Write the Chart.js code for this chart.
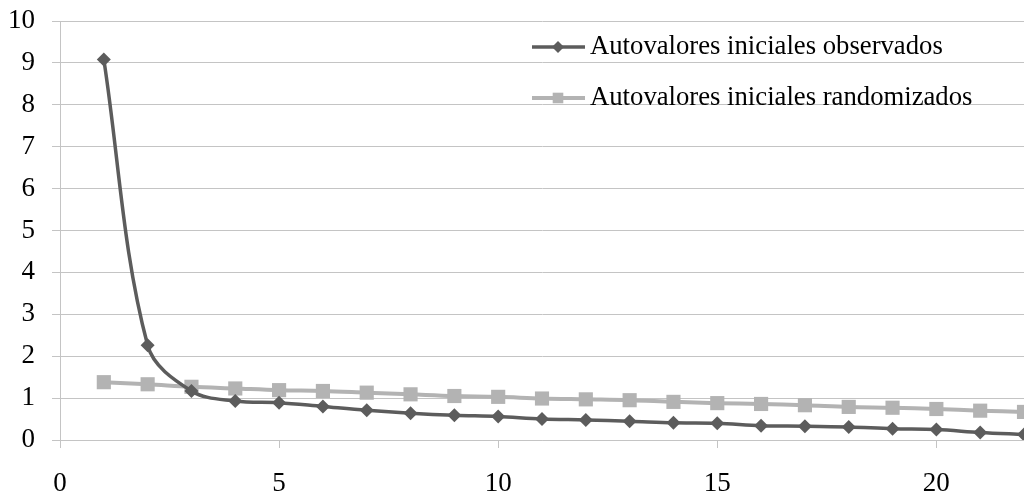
<!DOCTYPE html>
<html>
<head>
<meta charset="utf-8">
<script src="https://cdn.jsdelivr.net/npm/chart.js@4/dist/chart.umd.min.js"></script>
<style>
  html, body { margin: 0; padding: 0; background: #ffffff; }
  #wrap { width: 1024px; height: 499px; }
</style>
</head>
<body>
<div id="wrap"><canvas id="c" width="1024" height="499"></canvas></div>
<script>
// Component numbers and eigenvalues (parallel analysis)
const componentes = [1, 2, 3, 4, 5, 6, 7, 8, 9, 10, 11, 12, 13, 14, 15, 16, 17, 18, 19, 20, 21, 22];
const observados = [9.08, 2.26, 1.17, 0.93, 0.89, 0.80, 0.71, 0.64, 0.59, 0.56, 0.50, 0.48, 0.45, 0.41, 0.40, 0.34, 0.33, 0.31, 0.27, 0.25, 0.18, 0.13];
const randomizados = [1.38, 1.33, 1.27, 1.23, 1.19, 1.17, 1.13, 1.09, 1.05, 1.03, 0.99, 0.97, 0.95, 0.91, 0.88, 0.86, 0.83, 0.79, 0.77, 0.74, 0.70, 0.67];
const nombresSeries = ['Autovalores iniciales observados', 'Autovalores iniciales randomizados'];
const ticksX = [0, 5, 10, 15, 20];

const FONT = '"Liberation Serif", "Times New Roman", serif';
const FONT_SIZE = 27;
const OSCURO = '#5c5c5c';
const CLARO = '#b3b3b3';
const REJILLA = '#c4c4c4';

const toXY = (vals) => vals.map((v, i) => ({ x: componentes[i], y: v }));

// Legend drawn inside the plot area: line sample with a smaller marker, then label
const leyendaInterna = {
  id: 'leyendaInterna',
  afterDatasetsDraw(chart) {
    const ctx = chart.ctx;
    const filas = [47, 98];
    const radios = [6, 7.5];
    ctx.save();
    chart.data.datasets.forEach((ds, i) => {
      const y = filas[i];
      const x0 = 532, x1 = 585, xm = 558;
      ctx.strokeStyle = ds.borderColor;
      ctx.lineWidth = ds.borderWidth;
      ctx.beginPath();
      ctx.moveTo(x0, y);
      ctx.lineTo(x1, y);
      ctx.stroke();
      ctx.fillStyle = ds.pointBackgroundColor;
      ctx.beginPath();
      const r = radios[i];
      if (ds.pointStyle === 'rect') {
        const s = r * Math.SQRT1_2;
        ctx.rect(xm - s, y - s, 2 * s, 2 * s);
      } else {
        ctx.moveTo(xm, y - r); ctx.lineTo(xm + r, y); ctx.lineTo(xm, y + r); ctx.lineTo(xm - r, y); ctx.closePath();
      }
      ctx.fill();
      ctx.fillStyle = '#000000';
      ctx.font = '26.7px ' + FONT;
      ctx.textBaseline = 'middle';
      ctx.textAlign = 'left';
      ctx.fillText(ds.label, 590, y);
    });
    ctx.restore();
  }
};

new Chart(document.getElementById('c'), {
  type: 'line',
  data: {
    datasets: [
      {
        label: nombresSeries[0],
        data: toXY(observados),
        borderColor: OSCURO,
        backgroundColor: OSCURO,
        pointBackgroundColor: OSCURO,
        pointBorderColor: OSCURO,
        borderWidth: 3.5,
        pointStyle: 'rectRot',
        pointRadius: 7,
        pointBorderWidth: 0,
        tension: 0.35,
        order: 1
      },
      {
        label: nombresSeries[1],
        data: toXY(randomizados),
        borderColor: CLARO,
        backgroundColor: CLARO,
        pointBackgroundColor: CLARO,
        pointBorderColor: CLARO,
        borderWidth: 4,
        pointStyle: 'rect',
        pointRadius: 10,
        pointBorderWidth: 0,
        tension: 0.35,
        order: 2
      }
    ]
  },
  options: {
    responsive: false,
    animation: false,
    layout: { autoPadding: false, padding: { top: 21, right: 0, left: 0, bottom: 0 } },
    plugins: {
      legend: { display: false },
      tooltip: { enabled: false }
    },
    scales: {
      x: {
        type: 'linear',
        min: 0,
        max: 22,
        afterBuildTicks(scale) { scale.ticks = ticksX.map(v => ({ value: v })); },
        afterFit(scale) { scale.height = 59; scale.paddingLeft = 0; scale.paddingRight = 0; },
        ticks: { font: { family: FONT, size: FONT_SIZE }, color: '#000000', padding: 20, maxRotation: 0 },
        grid: { drawOnChartArea: false, drawTicks: true, tickLength: 8, color: REJILLA },
        border: { color: REJILLA, width: 1 }
      },
      y: {
        min: 0,
        max: 10,
        afterFit(scale) { scale.width = 60; scale.paddingTop = 0; scale.paddingBottom = 0; },
        ticks: { stepSize: 1, font: { family: FONT, size: FONT_SIZE }, color: '#000000', padding: 17 },
        grid: { color: REJILLA, tickLength: 8, lineWidth: 1 },
        border: { color: REJILLA, width: 1 }
      }
    }
  },
  plugins: [leyendaInterna]
});
</script>
</body>
</html>
